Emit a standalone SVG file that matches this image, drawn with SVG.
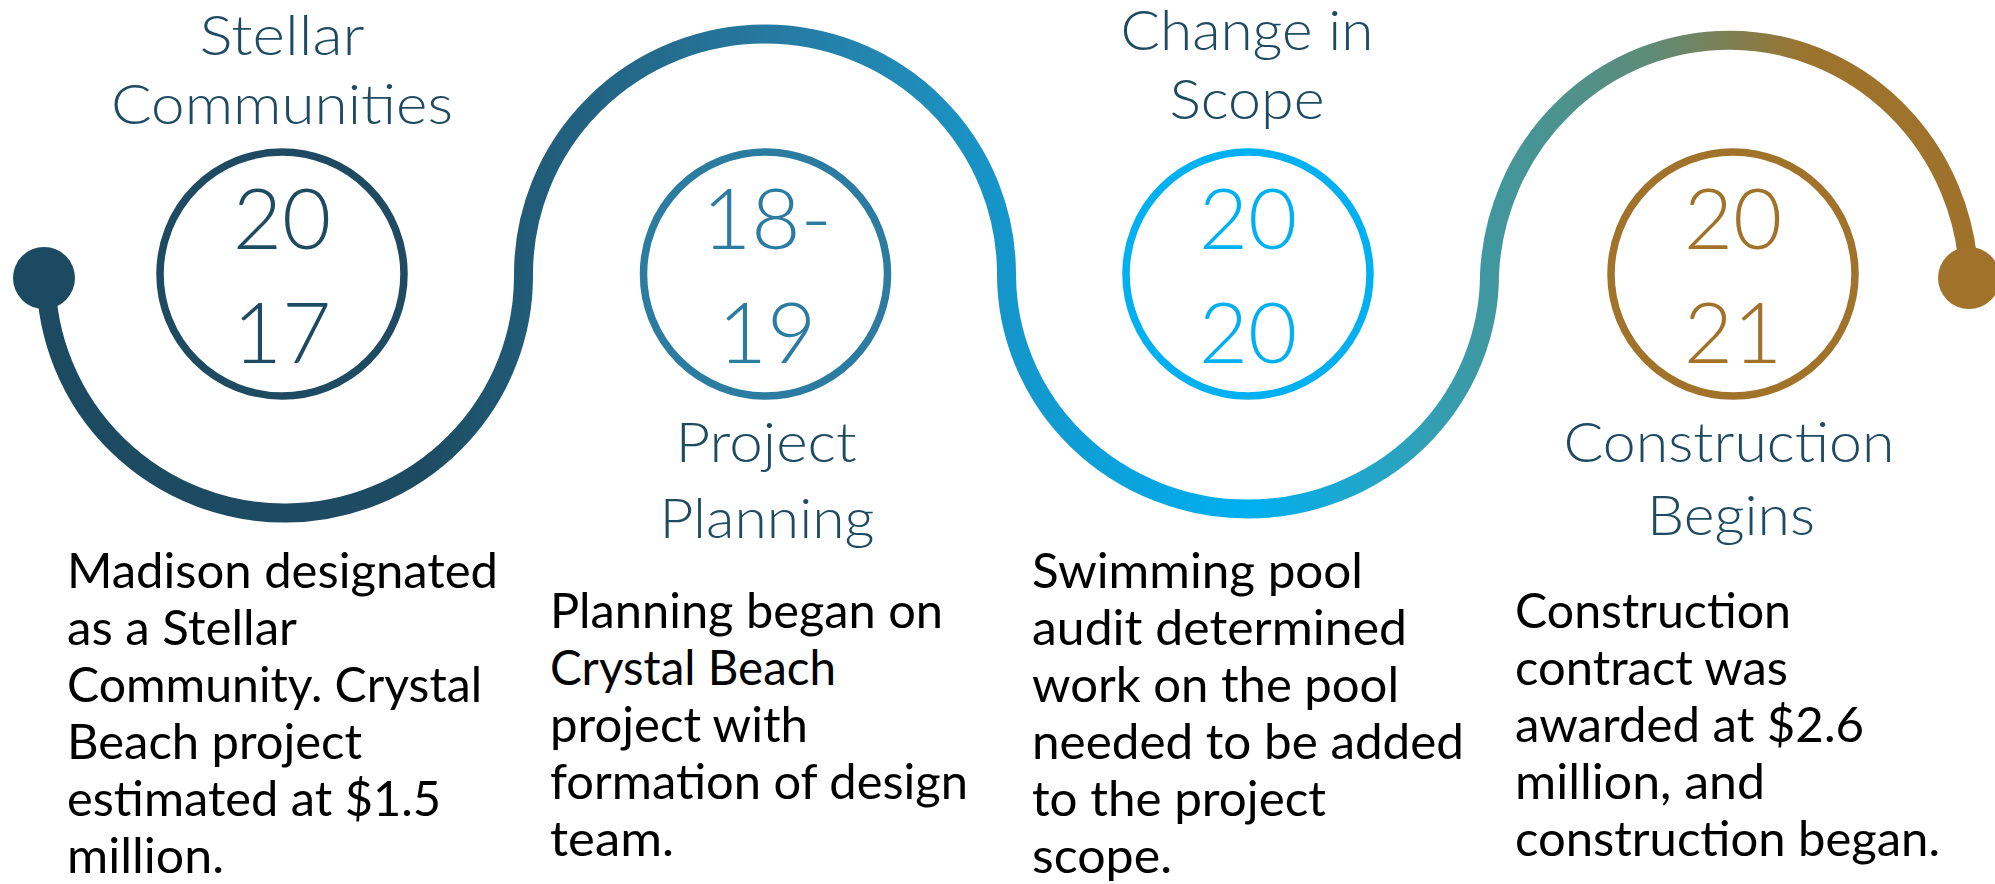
<svg xmlns="http://www.w3.org/2000/svg" width="1995" height="884" viewBox="0 0 1995 884">
<defs>
<linearGradient id="wave" gradientUnits="userSpaceOnUse" x1="0" y1="0" x2="1995" y2="0">
<stop offset="0" stop-color="#1C4A60"/>
<stop offset="0.21" stop-color="#1D4B62"/>
<stop offset="0.266" stop-color="#215C78"/>
<stop offset="0.384" stop-color="#2679A0"/>
<stop offset="0.45" stop-color="#2189B5"/>
<stop offset="0.504" stop-color="#1596CA"/>
<stop offset="0.626" stop-color="#00B0F0"/>
<stop offset="0.70" stop-color="#2AA3C0"/>
<stop offset="0.747" stop-color="#40979F"/>
<stop offset="0.827" stop-color="#5E8C78"/>
<stop offset="0.868" stop-color="#7E7F52"/>
<stop offset="0.907" stop-color="#9C732D"/>
<stop offset="1" stop-color="#A0722A"/>
</linearGradient>
<style>
.wave{fill:none;stroke:url(#wave);stroke-width:19;}
.ring{fill:none;stroke-width:7.5;}
.year{font-family:Lato,"Open Sans","Liberation Sans",sans-serif;font-weight:300;font-size:85px;text-anchor:middle;}
.title{font-family:Lato,"Open Sans","Liberation Sans",sans-serif;font-weight:300;font-size:56px;fill:#1E4B61;text-anchor:middle;}
.body{font-family:Lato,"Open Sans","Liberation Sans",sans-serif;font-weight:400;font-size:48px;fill:#000000;}
</style>
</defs>
<g id="connectors">
<path class="wave" d="M 46 278 A 238.7 237 0 0 0 523.5 274 A 241.5 240 0 0 1 1006.5 274 A 241.5 235 0 0 0 1489.5 274 A 240 246 0 0 1 1969 276"/>
<circle cx="44" cy="278" r="31" fill="#1C4A60"/>
<circle cx="1969" cy="278" r="31" fill="#A0722A"/>
</g>
<g id="node-2017">
<circle class="ring" cx="282" cy="274" r="122" stroke="#1E4B61"/>
<text class="year" x="282" y="249" fill="#1E4B61">20</text>
<text class="year" x="282" y="363" fill="#1E4B61">17</text>
<text class="title" x="282" y="55" textLength="165" lengthAdjust="spacingAndGlyphs">Stellar</text>
<text class="title" x="282" y="124" textLength="342" lengthAdjust="spacingAndGlyphs">Communities</text>
<text class="body" x="67" y="588" textLength="431" lengthAdjust="spacingAndGlyphs">Madison designated</text>
<text class="body" x="67" y="645" textLength="230" lengthAdjust="spacingAndGlyphs">as a Stellar</text>
<text class="body" x="67" y="702" textLength="415" lengthAdjust="spacingAndGlyphs">Community. Crystal</text>
<text class="body" x="67" y="759" textLength="295" lengthAdjust="spacingAndGlyphs">Beach project</text>
<text class="body" x="67" y="816" textLength="374" lengthAdjust="spacingAndGlyphs">estimated at $1.5</text>
<text class="body" x="67" y="873" textLength="157" lengthAdjust="spacingAndGlyphs">million.</text>
</g>
<g id="node-2018-19">
<circle class="ring" cx="765.5" cy="274" r="122" stroke="#2C7CA2"/>
<text class="year" x="767" y="249" fill="#2C7CA2">18-</text>
<text class="year" x="767" y="363" fill="#2C7CA2">19</text>
<text class="title" x="766" y="462" textLength="181" lengthAdjust="spacingAndGlyphs">Project</text>
<text class="title" x="767" y="538" textLength="215" lengthAdjust="spacingAndGlyphs">Planning</text>
<text class="body" x="550" y="628" textLength="393" lengthAdjust="spacingAndGlyphs">Planning began on</text>
<text class="body" x="550" y="685" textLength="286" lengthAdjust="spacingAndGlyphs">Crystal Beach</text>
<text class="body" x="550" y="742" textLength="258" lengthAdjust="spacingAndGlyphs">project with</text>
<text class="body" x="550" y="799" textLength="418" lengthAdjust="spacingAndGlyphs">formation of design</text>
<text class="body" x="550" y="856" textLength="124" lengthAdjust="spacingAndGlyphs">team.</text>
</g>
<g id="node-2020">
<circle class="ring" cx="1248" cy="274" r="122" stroke="#00B0F0"/>
<text class="year" x="1248" y="249" fill="#00B0F0">20</text>
<text class="year" x="1248" y="363" fill="#00B0F0">20</text>
<text class="title" x="1247" y="50" textLength="253" lengthAdjust="spacingAndGlyphs">Change in</text>
<text class="title" x="1247" y="119" textLength="155" lengthAdjust="spacingAndGlyphs">Scope</text>
<text class="body" x="1032" y="588" textLength="331" lengthAdjust="spacingAndGlyphs">Swimming pool</text>
<text class="body" x="1032" y="645" textLength="375" lengthAdjust="spacingAndGlyphs">audit determined</text>
<text class="body" x="1032" y="702" textLength="367" lengthAdjust="spacingAndGlyphs">work on the pool</text>
<text class="body" x="1032" y="759" textLength="432" lengthAdjust="spacingAndGlyphs">needed to be added</text>
<text class="body" x="1032" y="816" textLength="294" lengthAdjust="spacingAndGlyphs">to the project</text>
<text class="body" x="1032" y="873" textLength="140" lengthAdjust="spacingAndGlyphs">scope.</text>
</g>
<g id="node-2021">
<circle class="ring" cx="1733" cy="274" r="122" stroke="#A0722A"/>
<text class="year" x="1733" y="249" fill="#A0722A">20</text>
<text class="year" x="1733" y="363" fill="#A0722A">21</text>
<text class="title" x="1729" y="462" textLength="331" lengthAdjust="spacingAndGlyphs">Construction</text>
<text class="title" x="1731" y="535" textLength="168" lengthAdjust="spacingAndGlyphs">Begins</text>
<text class="body" x="1515" y="628" textLength="276" lengthAdjust="spacingAndGlyphs">Construction</text>
<text class="body" x="1515" y="685" textLength="273" lengthAdjust="spacingAndGlyphs">contract was</text>
<text class="body" x="1515" y="742" textLength="349" lengthAdjust="spacingAndGlyphs">awarded at $2.6</text>
<text class="body" x="1515" y="799" textLength="250" lengthAdjust="spacingAndGlyphs">million, and</text>
<text class="body" x="1515" y="856" textLength="425" lengthAdjust="spacingAndGlyphs">construction began.</text>
</g>
</svg>
